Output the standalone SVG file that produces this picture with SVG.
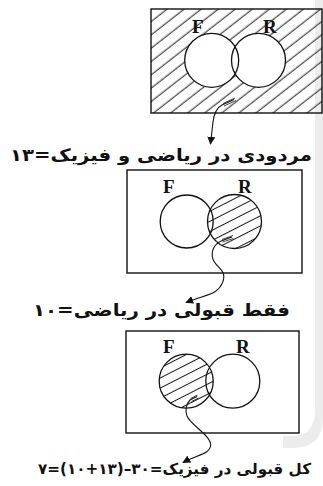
<svg xmlns="http://www.w3.org/2000/svg" width="323" height="486" viewBox="0 0 323 486">
<style>
.box{fill:#fff;stroke:#111;stroke-width:1.4}
.cir{fill:none;stroke:#111;stroke-width:1.3}
.lbl{font-family:"Liberation Serif","Times New Roman",serif;font-weight:bold;font-size:19px;fill:#111}
.fa{font-family:"DejaVu Sans",sans-serif;font-weight:bold;font-size:17px;fill:#111}
.con{fill:none;stroke:#111;stroke-width:1.1}
.tail{fill:none;stroke:#111;stroke-width:0.8}
</style>
<defs>
<pattern id="hatchBox" patternUnits="userSpaceOnUse" width="20" height="10.5" patternTransform="rotate(-38)">
<line x1="0" y1="5" x2="20" y2="5" stroke="#1a1a1a" stroke-width="1"/>
</pattern>
<pattern id="hatchCir" patternUnits="userSpaceOnUse" width="20" height="9" patternTransform="rotate(-27)">
<line x1="0" y1="4.5" x2="20" y2="4.5" stroke="#1a1a1a" stroke-width="1"/>
</pattern>
<marker id="arr" viewBox="0 0 10 10" refX="9" refY="5" markerWidth="8" markerHeight="8" markerUnits="userSpaceOnUse" orient="auto">
<path d="M0,0 L10,5 L0,10 Z" fill="#111"/>
</marker>
</defs>
<rect width="323" height="486" fill="#fff"/>
<g id="watermark">
<path d="M315,0 L323,0 L323,418 Q323,448 292,448 L283,448 L283,436 L292,436 Q315,436 315,410 Z" fill="#ececec"/>
</g>
<g id="venn1">
<rect x="151" y="9" width="171" height="104" fill="url(#hatchBox)" stroke="#111" stroke-width="1.4"/>
<circle cx="211.7" cy="60.3" r="27" fill="#fff"/>
<circle cx="258.5" cy="60.3" r="27" fill="#fff"/>
<circle class="cir" cx="211.7" cy="60.3" r="27"/>
<circle class="cir" cx="258.5" cy="60.3" r="27"/>
<text class="lbl" x="192" y="33">F</text>
<text class="lbl" x="263" y="33">R</text>
</g>
<g id="venn2">
<rect class="box" x="127" y="170" width="175" height="103"/>
<circle cx="234.5" cy="221.5" r="27" fill="url(#hatchCir)"/>
<circle class="cir" cx="186.7" cy="221.5" r="26.5"/>
<circle class="cir" cx="234.5" cy="221.5" r="27"/>
<text class="lbl" x="163" y="193">F</text>
<text class="lbl" x="238" y="193">R</text>
</g>
<g id="venn3">
<rect class="box" x="126" y="331" width="173" height="102"/>
<circle cx="186.2" cy="381.2" r="27" fill="url(#hatchCir)"/>
<circle class="cir" cx="186.2" cy="381.2" r="27"/>
<circle class="cir" cx="232.8" cy="381.2" r="27"/>
<text class="lbl" x="163" y="353">F</text>
<text class="lbl" x="236" y="353">R</text>
</g>
<g id="connectors">
<path class="con" d="M234,99.5 L222,105 C216,108 214,114 213,122 L210.5,144" marker-end="url(#arr)"/>
<path class="tail" d="M235,98 L223,103.5 M236,100.5 L224,106"/>
<path class="con" d="M232,237 L221.7,240.7 C214,244 211,251 212.7,258.3 C214,264 221,268 223.3,273.3 C225,279 222,287 215,291.7 C210,295 200,297 186,302.5" marker-end="url(#arr)"/>
<path class="tail" d="M233,235.5 L222,239.5 M233.5,238.5 L222.5,242"/>
<path class="con" d="M197,396.5 L190,400 C186,404 185,411 187,416 C190,423 200,429 206.7,436.7 C211,442 213,447 206.7,451.7 C202,455 193,457 183,462.5" marker-end="url(#arr)"/>
<path class="tail" d="M197.5,395 L190.5,398.5 M198.5,398 L191.5,401.5"/>
</g>
<g id="label1">
<text class="fa" x="312" y="160.5" direction="rtl" text-anchor="start" textLength="302" lengthAdjust="spacingAndGlyphs">مردودی در ریاضی و فیزیک=۱۳</text>
</g>
<g id="label2">
<text class="fa" x="290" y="316" direction="rtl" text-anchor="start" textLength="257" lengthAdjust="spacingAndGlyphs">فقط قبولی در ریاضی=۱۰</text>
</g>
<g id="label3">
<text class="fa" x="311" y="473.5" direction="rtl" text-anchor="start" textLength="273" lengthAdjust="spacingAndGlyphs" style="font-size:15px">کل قبولی در فیزیک=۳۰–(۱۳+۱۰)=۷</text>
</g>
</svg>
